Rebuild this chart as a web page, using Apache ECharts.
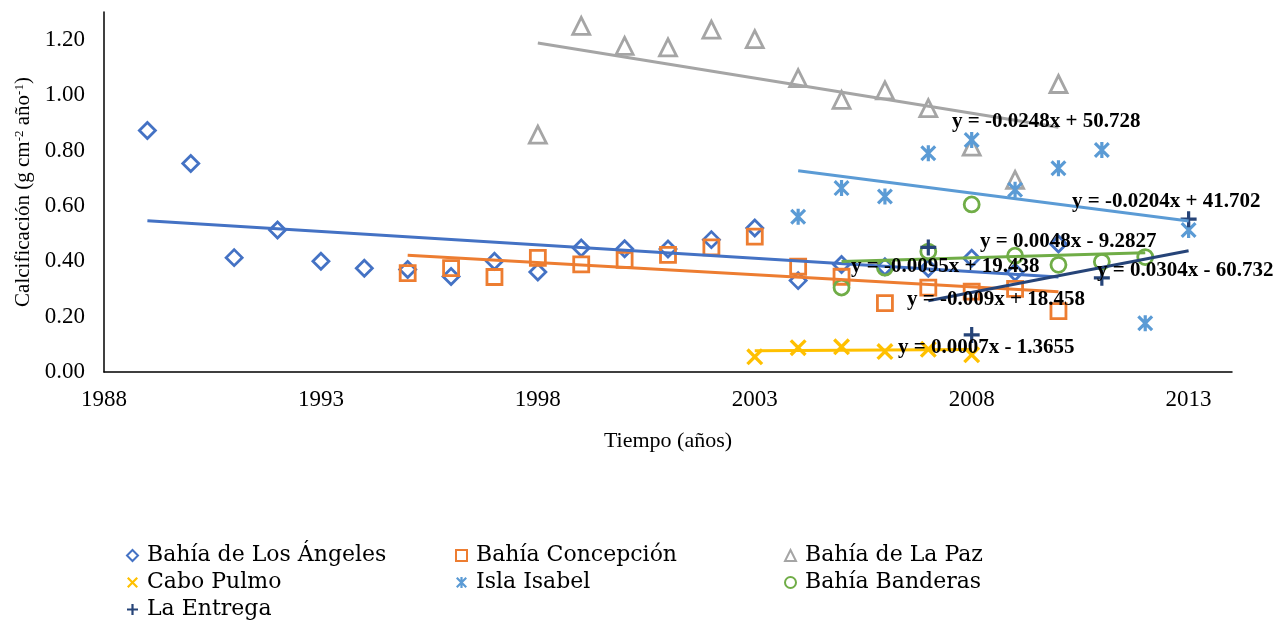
<!DOCTYPE html>
<html>
<head>
<meta charset="utf-8">
<title>Calcificación</title>
<script src="https://cdn.jsdelivr.net/npm/echarts@6/dist/echarts.min.js"></script>
<style>
  html, body { margin: 0; padding: 0; background: #fff; }
  #chart { width: 1280px; height: 624px; }
</style>
</head>
<body>
<div id="chart"></div>
<script>
// calcificación (g cm-2 año-1) por sitio
const laYears = [1989, 1990, 1991, 1992, 1993, 1994, 1995, 1996, 1997, 1998, 1999,
                 2000, 2001, 2002, 2003, 2004, 2005, 2006, 2007, 2008, 2009, 2010];
const laVals  = [0.872, 0.753, 0.413, 0.513, 0.400, 0.375, 0.370, 0.345, 0.400, 0.361, 0.448,
                 0.445, 0.444, 0.478, 0.520, 0.330, 0.388, 0.380, 0.375, 0.411, 0.360, 0.462];
const laTrend = [0.546, 0.343];

const cpYears = [1995, 1996, 1997, 1998, 1999, 2000, 2001, 2002, 2003, 2004, 2005, 2006, 2007, 2008, 2009, 2010];
const cpVals  = [0.357, 0.375, 0.343, 0.412, 0.389, 0.405, 0.423, 0.450, 0.489, 0.380, 0.344, 0.249, 0.305, 0.290, 0.300, 0.220];
const cpTrend = [0.422, 0.290];

const lpYears = [1998, 1999, 2000, 2001, 2002, 2003, 2004, 2005, 2006, 2007, 2008, 2009, 2010];
const lpVals  = [0.857, 1.250, 1.178, 1.172, 1.236, 1.202, 1.061, 0.983, 1.017, 0.953, 0.814, 0.694, 1.040];
const lpTrend = [1.188, 0.884];

const pulmoYears = [2003, 2004, 2005, 2006, 2007, 2008];
const pulmoVals  = [0.055, 0.088, 0.091, 0.074, 0.082, 0.062];
const pulmoTrend = [0.077, 0.081];

const isabelYears = [2004, 2005, 2006, 2007, 2008, 2009, 2010, 2011, 2012, 2013];
const isabelVals  = [0.561, 0.664, 0.634, 0.790, 0.838, 0.658, 0.736, 0.802, 0.176, 0.513];
const isabelTrend = [0.727, 0.545];

const banderasYears = [2005, 2006, 2007, 2008, 2009, 2010, 2011, 2012];
const banderasVals  = [0.305, 0.377, 0.435, 0.605, 0.420, 0.387, 0.398, 0.415];
const banderasTrend = [0.399, 0.431];

const entregaYears = [2007, 2008, 2011, 2013];
const entregaVals  = [0.450, 0.134, 0.340, 0.552];
const entregaTrend = [0.257, 0.438];

const equations = [
  'y = -0.0095x + 19.438',
  'y = -0.009x + 18.458',
  'y = -0.0248x + 50.728',
  'y = 0.0007x - 1.3655',
  'y = -0.0204x + 41.702',
  'y = 0.0048x - 9.2827',
  'y = 0.0304x - 60.732'
];

// marker shapes that ECharts does not have built in
const plusPath = 'path://M4,0H6V4H10V6H6V10H4V6H0V4H4Z';
const crossPath = 'path://M0,1.4L1.4,0L10,8.6L8.6,10ZM8.6,0L10,1.4L1.4,10L0,8.6Z';
const starPath = 'path://M4,0H6V10H4ZM0,1.4L1.4,0L10,8.6L8.6,10ZM8.6,0L10,1.4L1.4,10L0,8.6Z';

const sites = [
  { name: 'Bahía de Los Ángeles', years: laYears, vals: laVals, trend: laTrend, color: '#4472C4', symbol: 'diamond', size: 16, hollow: true },
  { name: 'Bahía Concepción', years: cpYears, vals: cpVals, trend: cpTrend, color: '#ED7D31', symbol: 'rect', size: 15, hollow: true },
  { name: 'Bahía de La Paz', years: lpYears, vals: lpVals, trend: lpTrend, color: '#A5A5A5', symbol: 'triangle', size: 17, hollow: true },
  { name: 'Cabo Pulmo', years: pulmoYears, vals: pulmoVals, trend: pulmoTrend, color: '#FFC000', symbol: crossPath, size: 17, hollow: false },
  { name: 'Isla Isabel', years: isabelYears, vals: isabelVals, trend: isabelTrend, color: '#5B9BD5', symbol: starPath, size: 16, hollow: false },
  { name: 'Bahía Banderas', years: banderasYears, vals: banderasVals, trend: banderasTrend, color: '#70AD47', symbol: 'circle', size: 15, hollow: true },
  { name: 'La Entrega', years: entregaYears, vals: entregaVals, trend: entregaTrend, color: '#264478', symbol: plusPath, size: 16, hollow: false }
];

// where Excel left each trendline label (left edge, middle), same order as equations
const eqPos = [[851, 267], [907, 300], [952, 122], [898, 348], [1072, 202], [980, 242], [1097, 271]];

const serif = '"Liberation Serif", "Times New Roman", serif';

const chart = echarts.init(document.getElementById('chart'), null, { renderer: 'canvas' });

const series = [];
sites.forEach(s => {
  series.push({
    name: s.name,
    type: 'scatter',
    symbol: s.symbol,
    symbolSize: s.size,
    data: s.years.map((y, i) => [y, s.vals[i]]),
    itemStyle: s.hollow
      ? { color: 'rgba(255,255,255,0)', borderColor: s.color, borderWidth: 2.8, opacity: 1 }
      : { color: s.color, opacity: 1 },
    z: 2
  });
});
sites.forEach(s => {
  series.push({
    type: 'line',
    data: [[s.years[0], s.trend[0]], [s.years[s.years.length - 1], s.trend[1]]],
    symbol: 'none',
    silent: true,
    lineStyle: { color: s.color, width: 3 },
    itemStyle: { color: s.color },
    z: 3
  });
});

const legendBase = {
  orient: 'vertical',
  top: 542,
  padding: 0,
  itemGap: 0,
  itemWidth: 11,
  itemHeight: 11,
  selectedMode: false,
  textStyle: {
    fontFamily: '"DejaVu Serif", serif', fontSize: 22, color: '#000',
    lineHeight: 27, padding: [0, 0, 0, 4]
  }
};

const option = {
  animation: false,
  backgroundColor: '#fff',
  grid: { left: 104, right: 48, top: 12, bottom: 252 },
  xAxis: {
    type: 'value',
    min: 1988,
    max: 2014,
    interval: 1,
    name: 'Tiempo (años)',
    nameLocation: 'middle',
    nameGap: 58,
    nameTextStyle: { fontFamily: serif, fontSize: 22, color: '#000' },
    axisLine: { onZero: false, lineStyle: { color: '#000', width: 1.5 } },
    axisTick: { show: false },
    splitLine: { show: false },
    axisLabel: {
      fontFamily: serif, fontSize: 23, color: '#000', margin: 16,
      showMaxLabel: false,
      formatter: v => ((v - 1988) % 5 === 0 ? String(v) : '')
    }
  },
  yAxis: {
    type: 'value',
    min: 0,
    max: 1.3,
    interval: 0.2,
    name: 'Calcificación (g cm{sup|-2} año{sup|-1})',
    nameLocation: 'middle',
    nameGap: 70,
    nameTextStyle: {
      fontFamily: serif, fontSize: 21, color: '#000',
      rich: { sup: { fontFamily: serif, fontSize: 13, color: '#000', verticalAlign: 'top', padding: [0, 0, 8, 0] } }
    },
    axisLine: { show: true, lineStyle: { color: '#000', width: 1.5 } },
    axisTick: { show: false },
    splitLine: { show: false },
    axisLabel: {
      fontFamily: serif, fontSize: 23, color: '#000', margin: 19,
      showMaxLabel: false,
      formatter: v => v.toFixed(2)
    }
  },
  legend: [
    Object.assign({}, legendBase, { left: 126, data: ['Bahía de Los Ángeles', 'Cabo Pulmo', 'La Entrega'] }),
    Object.assign({}, legendBase, { left: 455, data: ['Bahía Concepción', 'Isla Isabel'] }),
    Object.assign({}, legendBase, { left: 784, data: ['Bahía de La Paz', 'Bahía Banderas'] })
  ],
  graphic: equations.map((t, i) => ({
    type: 'text',
    x: eqPos[i][0],
    y: eqPos[i][1],
    z: 100,
    silent: true,
    style: { text: t, fontFamily: serif, fontSize: 21, fontWeight: 'bold', fill: '#000', verticalAlign: 'middle' }
  })),
  series: series
};

chart.setOption(option);
</script>
</body>
</html>
